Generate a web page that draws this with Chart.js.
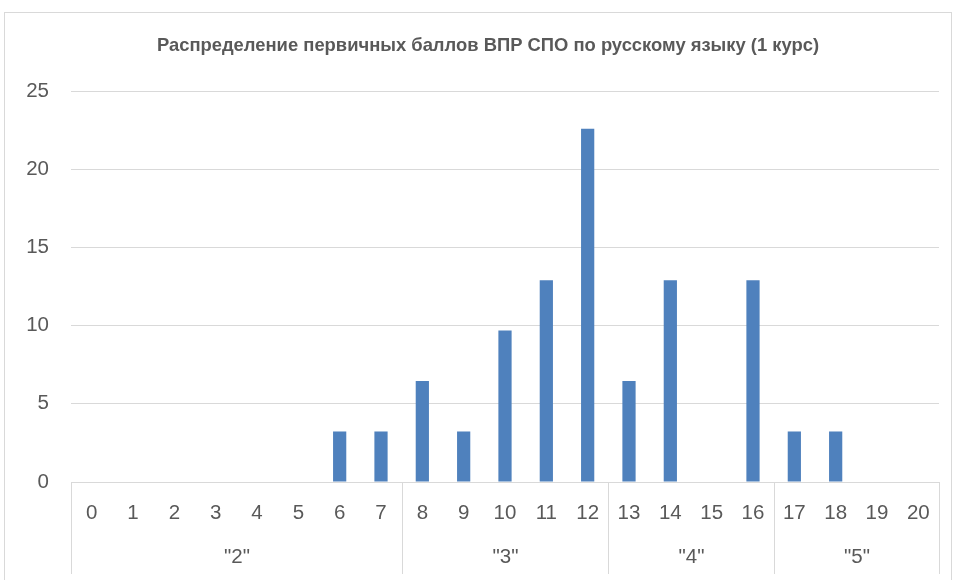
<!DOCTYPE html>
<html>
<head>
<meta charset="utf-8">
<script src="https://cdn.jsdelivr.net/npm/chart.js@4"></script>
<style>
  html, body { margin: 0; padding: 0; background: #fff; overflow: hidden; }
  #wrap { width: 956px; height: 580px; }
</style>
</head>
<body>
<div id="wrap"><canvas id="scoreChart" width="956" height="580"></canvas></div>
<script>
const title = 'Распределение первичных баллов ВПР СПО по русскому языку (1 курс)'
const scores = ['0','1','2','3','4','5','6','7','8','9','10','11','12','13','14','15','16','17','18','19','20']
const shares = [0, 0, 0, 0, 0, 0, 3.23, 3.23, 6.45, 3.23, 9.68, 12.9, 22.58, 6.45, 12.9, 0, 12.9, 3.23, 3.23, 0, 0]
const gradeLabels = ['"2"', '"3"', '"4"', '"5"']
const gradeSpans = [8, 5, 4, 4]

const FONT = '"Liberation Sans", Arial, sans-serif'
const GRID = '#d9d9d9'
const TEXT = '#595959'

// frame, title, grade groups under the x axis
const decor = {
  id: 'decor',
  beforeDraw(chart) {
    const ctx = chart.ctx
    ctx.save()
    ctx.strokeStyle = GRID
    ctx.lineWidth = 1
    ctx.strokeRect(4.5, 12.5, 947, 600)
    ctx.fillStyle = TEXT
    ctx.font = 'bold 18.4px ' + FONT
    ctx.textAlign = 'center'
    ctx.textBaseline = 'middle'
    ctx.fillText(title, 488, 46)
    ctx.restore()
  },
  afterDraw(chart) {
    const ctx = chart.ctx
    const x = chart.scales.x
    const area = chart.chartArea
    const half = (x.getPixelForValue(1) - x.getPixelForValue(0)) / 2
    ctx.save()
    ctx.strokeStyle = GRID
    ctx.lineWidth = 1
    ctx.fillStyle = TEXT
    ctx.font = '20.5px ' + FONT
    ctx.textAlign = 'center'
    ctx.textBaseline = 'middle'
    let start = 0
    const edge = (i) => Math.round(x.getPixelForValue(i) - half) + 0.5
    ctx.beginPath()
    ctx.moveTo(edge(0), area.bottom)
    ctx.lineTo(edge(0), 574)
    gradeSpans.forEach((n, g) => {
      const end = start + n
      const px = edge(end)
      ctx.moveTo(px, area.bottom)
      ctx.lineTo(px, 574)
      ctx.fillText(gradeLabels[g], (edge(start) + px) / 2, 557)
      start = end
    })
    ctx.stroke()
    ctx.restore()
  }
}

new Chart(document.getElementById('scoreChart'), {
  type: 'bar',
  data: {
    labels: scores,
    datasets: [{
      data: shares,
      backgroundColor: '#4f81bd',
      categoryPercentage: 1,
      barPercentage: 0.32
    }]
  },
  options: {
    responsive: false,
    animation: false,
    layout: { padding: { left: 0, right: 17, top: 91, bottom: 0 } },
    plugins: {
      legend: { display: false },
      title: { display: false },
      tooltip: { enabled: false }
    },
    scales: {
      x: {
        grid: { display: false, drawTicks: false },
        border: { display: false },
        ticks: {
          color: TEXT,
          font: { family: FONT, size: 20.5 },
          padding: 19,
          maxRotation: 0,
          autoSkip: false
        },
        afterFit(scale) { scale.height = 98 }
      },
      y: {
        min: 0,
        max: 25,
        grid: { color: GRID, lineWidth: 1, drawTicks: false },
        border: { display: false },
        ticks: {
          stepSize: 5,
          color: TEXT,
          font: { family: FONT, size: 20.5 },
          padding: 22
        },
        afterFit(scale) { scale.width = 71 }
      }
    }
  },
  plugins: [decor]
})
</script>
</body>
</html>
